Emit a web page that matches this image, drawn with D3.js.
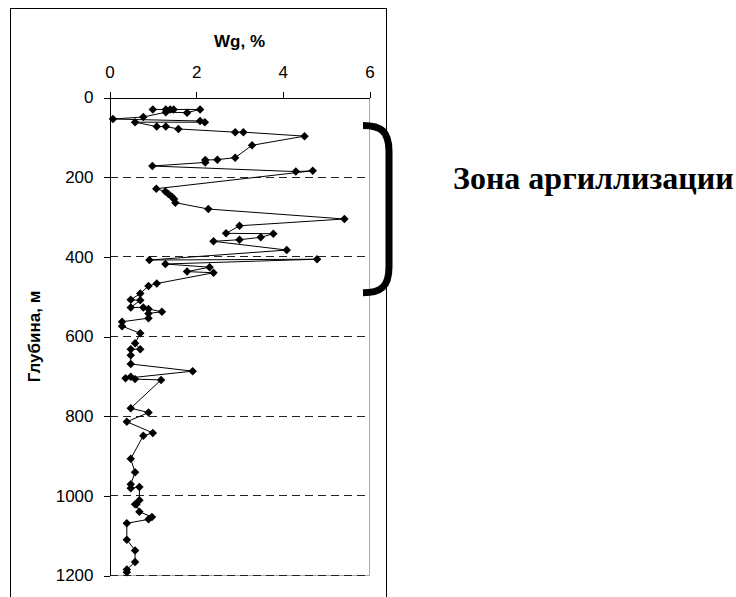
<!DOCTYPE html>
<meta charset="utf-8">
<style>
body { margin: 0; background: #fff; }
svg { display: block; }
.tick text { font-family: "Liberation Sans", Arial, sans-serif; font-size: 17px; fill: #000; }
.axis path, .axis line { stroke: #000; shape-rendering: crispEdges; }
.grid { stroke: #222; stroke-dasharray: 8,5; shape-rendering: crispEdges; }
.series { fill: none; stroke: #000; stroke-width: 1; }
.title { font-family: "Liberation Sans", Arial, sans-serif; font-size: 17px; font-weight: bold; }
.zone { font-family: "Liberation Serif", "Times New Roman", serif; font-size: 32px; font-weight: bold; }
</style>
<body>
<script src="https://d3js.org/d3.v7.min.js" charset="utf-8"></script>
<script>

var width = 736,
    height = 597;

// Wg, % against depth (m), in drawing order
var wg = [1.00, 1.30, 1.40, 1.48, 2.09, 1.79, 1.30, 0.78, 0.08, 2.09, 2.20, 0.59,
          1.09, 1.30, 1.59, 2.90, 3.09, 4.50, 3.29, 2.90, 2.49, 2.21, 2.21, 0.99,
          4.30, 4.69, 1.08, 1.29, 1.36, 1.44, 1.49, 1.52, 2.28, 5.42, 3.00, 2.69,
          3.78, 3.49, 3.00, 2.40, 4.09, 0.92, 4.79, 1.29, 2.31, 1.79, 2.40, 1.09,
          0.90, 0.71, 0.49, 0.71, 0.49, 0.78, 0.90, 1.21, 0.90, 0.90, 0.29, 0.29,
          0.71, 0.59, 0.71, 0.49, 0.49, 0.49, 1.92, 0.37, 0.49, 0.59, 1.19, 0.49,
          0.90, 0.40, 1.00, 0.78, 0.49, 0.59, 0.49, 0.49, 0.69, 0.69, 0.59, 0.62,
          0.69, 0.98, 0.90, 0.40, 0.40, 0.59, 0.59, 0.40, 0.40];
var depth = [30, 30, 30, 30, 30, 38, 37, 49, 54, 59, 62, 62,
             73, 73, 79, 87, 87, 97, 120, 151, 156, 157, 163, 172,
             186, 184, 229, 236, 242, 249, 255, 264, 280, 305, 322, 341,
             342, 351, 357, 361, 383, 408, 406, 418, 426, 437, 440, 467,
             473, 492, 508, 509, 527, 527, 531, 538, 542, 554, 563, 574,
             592, 617, 632, 632, 647, 669, 687, 705, 701, 707, 709, 780,
             791, 814, 842, 849, 907, 941, 971, 981, 978, 1011, 1021, 1021,
             1040, 1053, 1059, 1069, 1110, 1137, 1166, 1185, 1192];

var xTicks = [0, 2, 4, 6];
var yTicks = [0, 200, 400, 600, 800, 1000, 1200];
var gridDepths = [200, 400, 600, 800, 1000, 1200];

var xLabel = "Wg, %";
var yLabel = "Глубина, м";
var zoneLabel = "Зона аргиллизации";
var zoneDepths = [70, 490]; // bracket extent

var points = wg.map((v, i) => ({ wg: v, depth: depth[i] }));

var svg = d3.select("body").append("svg")
    .attr("width", width)
    .attr("height", height);

// outer chart frame
svg.append("rect")
    .attr("x", 10.5).attr("y", 8.5)
    .attr("width", 376).attr("height", 600)
    .attr("fill", "none").attr("stroke", "#000");

var x = d3.scaleLinear().domain([0, 6]).range([109.5, 369.5]);
var y = d3.scaleLinear().domain([0, 1200]).range([97.5, 575.5]);

// plot area right and bottom edges
svg.append("path")
    .attr("d", `M${x(6)},${y(0)}V${y(1200)}H${x(0)}`)
    .attr("fill", "none").attr("stroke", "#aaa")
    .attr("shape-rendering", "crispEdges");

svg.selectAll("line.grid")
    .data(gridDepths)
  .enter()
    .append("line")
    .attr("class", "grid")
    .attr("x1", x(0)).attr("x2", x(6))
    .attr("y1", d => y(d)).attr("y2", d => y(d))
    .attr("stroke", d => d == 1200 ? "#666" : null);

svg.append("g")
    .attr("class", "axis")
    .attr("transform", `translate(0,${y(0)})`)
    .call(d3.axisTop(x).tickValues(xTicks).tickFormat(d3.format("d"))
        .tickSize(6).tickSizeOuter(0).tickPadding(14))
    .call(g => g.selectAll("text").attr("font-family", null).attr("font-size", null));

svg.append("g")
    .attr("class", "axis")
    .attr("transform", `translate(${x(0)},0)`)
    .call(d3.axisLeft(y).tickValues(yTicks).tickFormat(d3.format("d"))
        .tickSize(6).tickSizeOuter(0).tickPadding(10))
    .call(g => g.selectAll("text").attr("font-family", null).attr("font-size", null));

svg.append("text")
    .attr("class", "title")
    .attr("x", (x(0) + x(6)) / 2).attr("y", 47)
    .attr("text-anchor", "middle")
    .text(xLabel);

svg.append("text")
    .attr("class", "title")
    .attr("transform", `translate(40,${(y(0) + y(1200)) / 2}) rotate(-90)`)
    .attr("text-anchor", "middle")
    .text(yLabel);

var line = d3.line()
    .x(d => x(d.wg))
    .y(d => y(d.depth));

svg.append("path")
    .datum(points)
    .attr("class", "series")
    .attr("d", line);

var marker = d3.symbol(d3.symbolSquare, 36);

svg.selectAll("path.pt")
    .data(points)
  .enter()
    .append("path")
    .attr("class", "pt")
    .attr("d", marker)
    .attr("transform", d => `translate(${x(d.wg)},${y(d.depth)}) rotate(45)`)
    .attr("fill", "#000");

// bracket marking the argillization zone
var bx0 = 363, bx1 = 389,
    by0 = y(zoneDepths[0]), by1 = y(zoneDepths[1]);
svg.append("path")
    .attr("d", `M${bx0},${by0} C${bx0 + 18},${by0} ${bx1},${by0 + 6} ${bx1},${by0 + 26}` +
               ` L${bx1},${by1 - 26} C${bx1},${by1 - 6} ${bx0 + 18},${by1} ${bx0},${by1}`)
    .attr("fill", "none")
    .attr("stroke", "#000")
    .attr("stroke-width", 7);

svg.append("text")
    .attr("class", "zone")
    .attr("x", 453).attr("y", 189)
    .text(zoneLabel);

</script>
</body>
